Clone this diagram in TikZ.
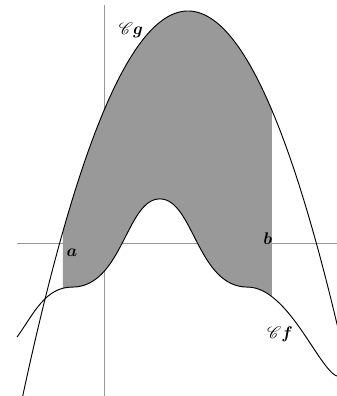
\documentclass[tikz,border=0pt]{standalone}
\usepackage{amsmath,amssymb}
\usepackage{bm}
\usepackage{mathrsfs}
\usepackage{tikz}

\newcommand{\gfun}[1]{5.524-0.592*(#1-2)^2}
\newcommand{\fcurve}{(-2.07,-2.24) .. controls (-1.67,-1.68) and (-1.40,-1.05) .. (-0.76,-1.05)
  .. controls (0.44,-1.05) and (0.53,1.05) .. (1.33,1.05)
  .. controls (2.13,1.05) and (2.22,-1.05) .. (3.42,-1.05)
  .. controls (4.42,-1.05) and (5.18,-3.18) .. (5.60,-3.18)}

\begin{document}
\begin{tikzpicture}[x=1.26cm, y=1.26cm,
  axis/.style={draw=black!40, line width=0.6pt},
  curve/.style={draw=black, line width=0.8pt},
  area/.style={fill=black!40},
  lbl/.style={font=\Large, inner sep=0pt},
]
  \clip (-2.476,-3.643) rectangle (5.548,5.786);
  % shaded area between the two curves
  \begin{scope}
    \clip (-0.98,-4) rectangle (4,6);
    \clip plot[domain=-2.1:6.1, samples=80] (\x,{\gfun{\x}}) -- cycle;
    \fill[area] \fcurve -- (5.6,6) -- (-2.07,6) -- cycle;
  \end{scope}
  % axes
  \coordinate (xl) at (-2.07,0);
  \coordinate (xr) at (5.548,0);
  \coordinate (yb) at (0,-3.643);
  \coordinate (yt) at (0,5.67);
  \draw[axis] (xl) -- (xr);
  \draw[axis] (yb) -- (yt);
  % curves
  \draw[curve] plot[domain=-1.98:5.6, samples=120] (\x,{\gfun{\x}});
  \draw[curve] \fcurve;
  % labels
  \node[lbl] (Cg) at (0.64,5.07) {$\mathscr{C}\bm{g}$};
  \node[lbl] (Cf) at (4.19,-2.17) {$\mathscr{C}\bm{f}$};
  \node[lbl] (la) at (-0.76,-0.24) {$\bm{a}$};
  \node[lbl] (lb) at (3.90,0.10) {$\bm{b}$};
\end{tikzpicture}
\end{document}
